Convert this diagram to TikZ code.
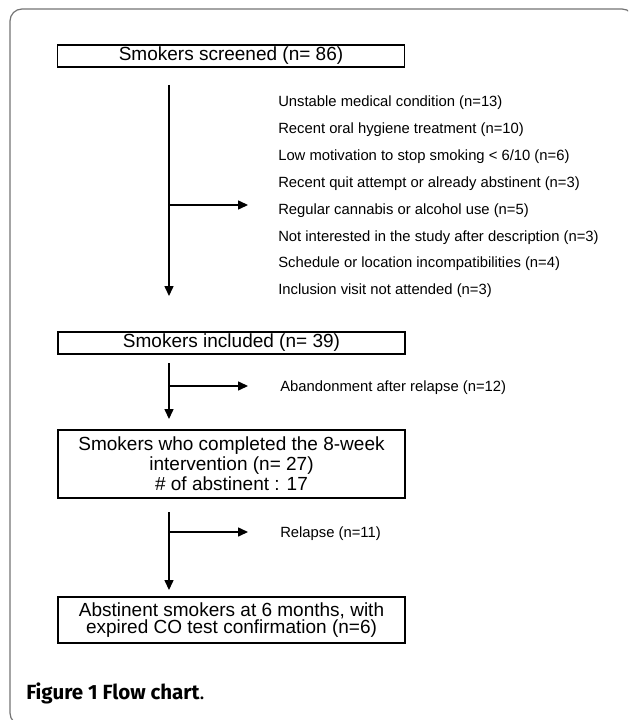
\documentclass[tikz,border=0pt]{standalone}
\usepackage{fontspec}
\setmainfont{Liberation Sans}
\newfontfamily\capfont{Fira Sans}
\usetikzlibrary{arrows.meta}
\begin{document}
\begin{tikzpicture}[x=0.75pt,y=-0.75pt,
  box/.style={draw, line width=1pt, inner sep=0pt, minimum width=347*0.75pt, align=center, font=\fontsize{14.25pt}{15pt}\selectfont},
  small/.style={anchor=west, inner sep=0pt, font=\fontsize{11.1pt}{13pt}\selectfont},
  flow/.style={line width=1pt, -{Triangle[length=7.5pt,width=6.8pt]}},
  side/.style={line width=1pt}]
\clip (0,0) rectangle (628,720);
\useasboundingbox (0,0) rectangle (628,720);
\draw[line width=0.9pt, color=black!55, rounded corners=9pt] (10,9) rectangle (634,725);

% boxes
\node[box, minimum height=22*0.75pt] (b1) at (231,56) {Smokers screened (n= 86)};
\node[box, minimum height=22*0.75pt] (b2) at (231.5,343) {Smokers included (n= 39)};
\node[box, minimum height=68*0.75pt] (b3) at (231.5,464) {Smokers who completed the 8-week\\intervention (n= 27)\\\# of abstinent : 17};
\node[box, minimum height=46*0.75pt, font=\fontsize{14.25pt}{12.9pt}\selectfont] (b4) at (231.5,620) {Abstinent smokers at 6 months, with\\expired CO test confirmation (n=6)};

% section 1
\coordinate (s1) at (169,85);
\coordinate (e1) at (169,296);
\coordinate (j1) at (169,205);
\coordinate (t1) at (248,205);
\draw[flow] (s1) -- (e1);
\draw[flow] (j1) -- (t1);
\node[small] (r1) at (278,103) {Unstable medical condition (n=13)};
\node[small] (r2) at (278,129.9) {Recent oral hygiene treatment (n=10)};
\node[small] (r3) at (278,156.7) {Low motivation to stop smoking < 6/10 (n=6)};
\node[small] (r4) at (278,183.6) {Recent quit attempt or already abstinent (n=3)};
\node[small] (r5) at (278,210.4) {Regular cannabis or alcohol use (n=5)};
\node[small] (r6) at (278,237.3) {Not interested in the study after description (n=3)};
\node[small] (r7) at (278,264.1) {Schedule or location incompatibilities (n=4)};
\node[small] (r8) at (278,291) {Inclusion visit not attended (n=3)};

% section 2
\coordinate (s2) at (169,363);
\coordinate (e2) at (169,419);
\coordinate (j2) at (169,386);
\coordinate (t2) at (248,386);
\draw[flow] (s2) -- (e2);
\draw[flow] (j2) -- (t2);
\node[small] (a1) at (280,388) {Abandonment after relapse (n=12)};

% section 3
\coordinate (s3) at (169,512);
\coordinate (e3) at (169,590);
\coordinate (j3) at (169,532);
\coordinate (t3) at (248,532);
\draw[flow] (s3) -- (e3);
\draw[flow] (j3) -- (t3);
\node[small] (a2) at (280,534) {Relapse (n=11)};

% caption
\node[anchor=base west, inner sep=0pt, font=\capfont\fontsize{15.4pt}{18pt}\selectfont] (cap) at (26,699) {\textbf{Figure 1 Flow chart}.};
\end{tikzpicture}
\end{document}
